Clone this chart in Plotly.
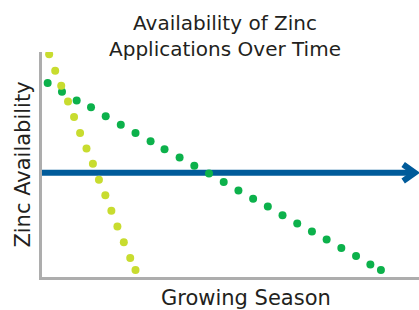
import plotly.graph_objects as go

# Steep decline (light yellow-green dots)
fast_x = [1.9, 3.5, 5.1, 6.9, 8.5, 10.1, 11.8, 13.5, 15.1, 16.8, 18.4, 20.0, 21.7, 23.4, 24.8]
fast_y = [99.0, 91.7, 85.0, 78.0, 71.1, 64.0, 57.1, 50.3, 43.2, 36.3, 29.4, 22.4, 15.5, 8.5, 3.1]

# Gradual decline (green dots)
slow_x = [1.5, 5.3, 9.2, 13.0, 16.9, 20.9, 24.8, 28.8, 32.5, 36.5, 40.4, 44.3, 48.2, 52.1,
          56.0, 59.9, 63.8, 67.7, 71.6, 75.5, 79.4, 83.3, 87.1, 89.9]
slow_y = [86.2, 82.3, 78.5, 75.4, 71.4, 67.7, 64.0, 60.3, 56.8, 53.1, 49.4, 46.0, 42.2, 38.5,
          34.8, 31.3, 27.4, 23.8, 20.2, 16.7, 12.9, 9.3, 5.6, 3.1]

# Constant availability (blue arrow)
steady_x = [0, 98.9]
steady_y = [46.3, 46.3]
head_x = [95.8, 98.9, 95.8]
head_y = [50.0, 46.3, 42.7]

TITLE = "Availability of Zinc<br>Applications Over Time"
X_TITLE = "Growing Season"
Y_TITLE = "Zinc Availability"

FONT = "DejaVu Sans"
TXT = "#231f20"

W, H = 419, 310

fig = go.Figure()
fig.add_trace(go.Scatter(x=steady_x, y=steady_y, mode="lines",
                         line=dict(color="#005b9a", width=6), hoverinfo="skip"))
fig.add_trace(go.Scatter(x=head_x, y=head_y, mode="lines",
                         line=dict(color="#005b9a", width=6), hoverinfo="skip"))
fig.add_trace(go.Scatter(x=slow_x, y=slow_y, mode="markers",
                         marker=dict(color="#0cb14b", size=8, line=dict(width=0))))
fig.add_trace(go.Scatter(x=fast_x, y=fast_y, mode="markers",
                         marker=dict(color="#c8dc2f", size=8, line=dict(width=0))))

fig.update_layout(
    width=W, height=H,
    margin=dict(l=42, r=0, t=52, b=33),
    paper_bgcolor="white", plot_bgcolor="white",
    showlegend=False,
    font=dict(family=FONT, color=TXT),
    title=dict(text=TITLE, x=225 / W, xanchor="center", y=1 - 30 / H, yanchor="top",
               font=dict(family=FONT, size=20, color=TXT)),
    annotations=[dict(text=X_TITLE, xref="paper", yref="paper", x=(246 - 42) / 377, y=-0.093,
                      xanchor="center", yanchor="middle", showarrow=False,
                      font=dict(family=FONT, size=21, color=TXT))],
)
fig.update_xaxes(range=[0, 100], showgrid=False, zeroline=False, showticklabels=False,
                 ticks="", showline=True, linecolor="#adadad", linewidth=3)
fig.update_yaxes(range=[0, 100], showgrid=False, zeroline=False, showticklabels=False,
                 ticks="", showline=True, linecolor="#adadad", linewidth=3,
                 title=dict(text=Y_TITLE, standoff=3, font=dict(family=FONT, size=21, color=TXT)))

fig.write_html(
    "out.html",
    config={"displayModeBar": False},
    post_script="document.body.style.margin='0px';document.body.style.overflow='hidden';",
)
